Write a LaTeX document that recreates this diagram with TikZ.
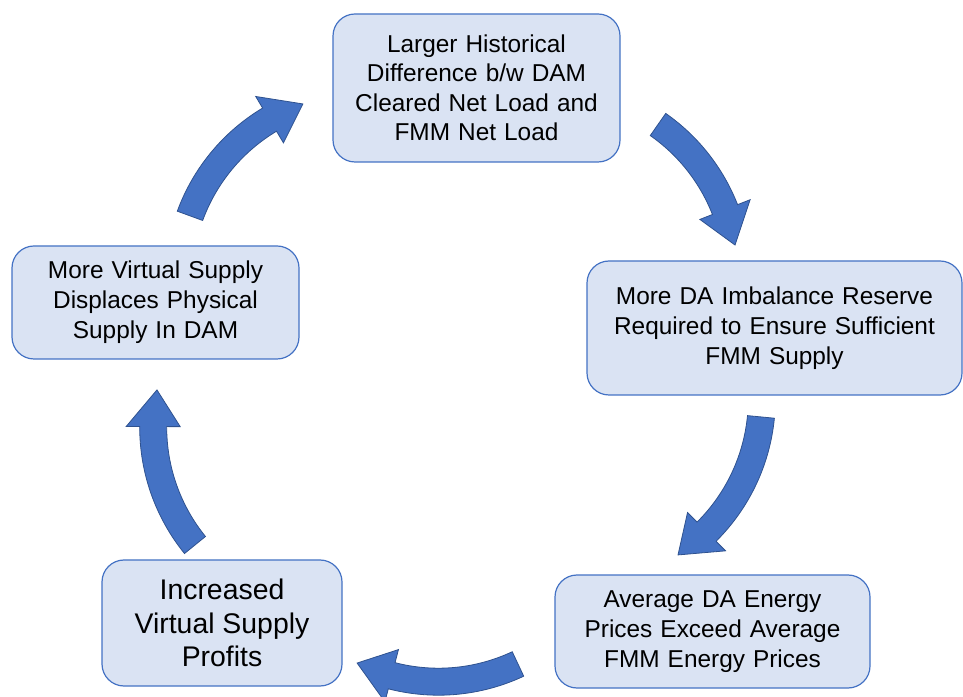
\documentclass[tikz,border=0pt]{standalone}
\usepackage{fontspec}
\setmainfont{Liberation Sans}
\usepackage{tikz}
\usepackage{xcolor}
\usetikzlibrary{
    calc,
    positioning
}
\definecolor{boxfill}{HTML}{DAE3F3}
\definecolor{boxedge}{HTML}{4472C4}
\definecolor{arrowfill}{HTML}{4472C4}
\definecolor{arrowedge}{HTML}{2F528F}
\newcommand{\widespaces}{\spaceskip=0.33em plus 0.1em\relax}

% curved block arrow: centre x, centre y, tail angle, head base angle, tip angle
\newcommand{\cyclearrow}[5]{
    \begin{scope}[shift={(#1,#2)}]
        \filldraw[bigarrow]
        (#3:200.5) arc[start angle=#3, end angle=#4, radius=200.5]
        -- (#4:214) -- (#5:187) -- (#4:160) -- (#4:173.5)
        arc[start angle=#4, end angle=#3, radius=173.5] -- cycle;
    \end{scope}
}

\begin{document}
\begin{tikzpicture}[x=0.5pt, y=0.5pt,
    box/.style={rectangle, rounded corners=11pt, draw=boxedge, fill=boxfill,
        line width=0.6pt, align=center, inner sep=0pt,
        font=\fontsize{12.2}{15}\selectfont\widespaces},
    bigarrow/.style={fill=arrowfill, draw=arrowedge, line width=0.4pt, line join=miter}]
                        \useasboundingbox (0, 0) rectangle (963, 696);
                        \node[box, minimum width=143.5pt, minimum height=74pt,
                            font=\fontsize{12.2}{14.75}\selectfont\widespaces] (larger) at (476.5, 608)
                        {Larger Historical\\Difference b/w DAM\\Cleared Net Load and\\FMM Net Load};
                        \node[box, minimum width=187.5pt, minimum height=67pt] (reserve) at (774.5, 368)
                        {More DA Imbalance Reserve\\Required to Ensure Sufficient\\FMM Supply};
                        \node[box, minimum width=157.5pt, minimum height=56.5pt] (prices) at (712.5, 64.5)
                        {Average DA Energy\\Prices Exceed Average\\FMM Energy Prices};
                        \node[box, minimum width=120pt, minimum height=63pt,
                            font=\fontsize{14.2}{16.75}\selectfont] (profits) at (222, 73)
                        {Increased\\Virtual Supply\\Profits};
                        \node[box, minimum width=143.5pt, minimum height=56.5pt] (displace) at (155.5, 393.5)
                        {More Virtual Supply\\Displaces Physical\\Supply In DAM};
                        % arrows round the cycle
                        \cyclearrow{365.6}{415.9}{159.9}{120.9}{109.6}
                        \cyclearrow{550.9}{418.2}{55.06}{21.4}{10.1}
                        \cyclearrow{574.8}{297.0}{-5.5}{-45.2}{-56.5}
                        \cyclearrow{438.5}{201.3}{-64.85}{-104.5}{-115.8}
                        \cyclearrow{340.2}{268.8}{219.05}{179.8}{168.5}
\end{tikzpicture}
\end{document}
